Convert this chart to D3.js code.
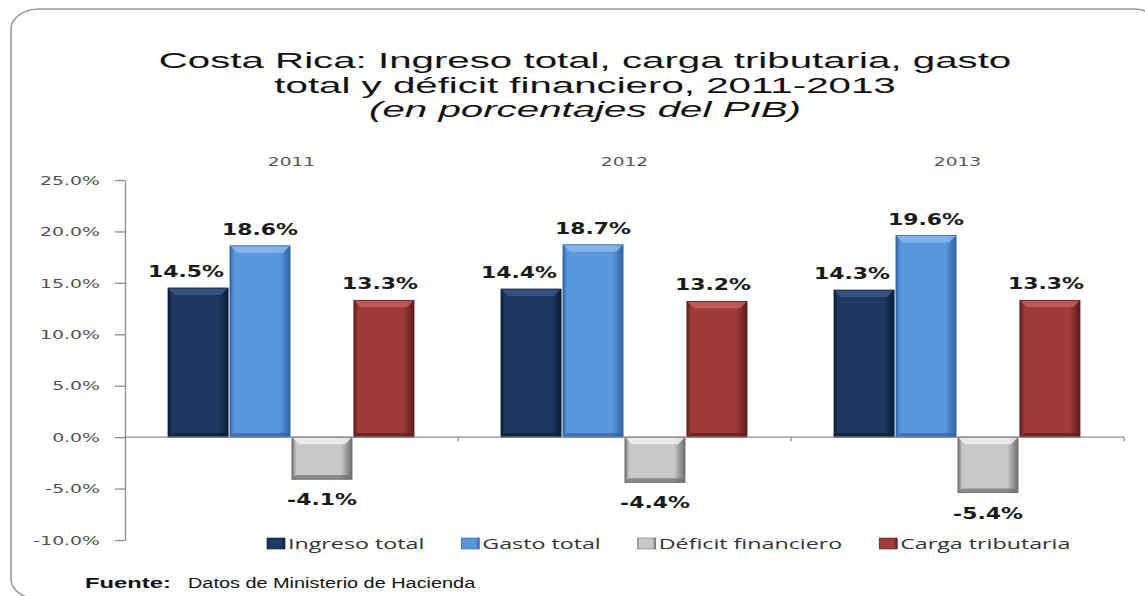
<!DOCTYPE html>
<html>
<head>
<meta charset="utf-8">
<script src="https://cdn.jsdelivr.net/npm/d3@7"></script>
<style>
  body { margin: 0; background: #fff; }
  svg { display: block; }
</style>
</head>
<body>
<div id="chart"></div>
<script>
// data
var years = ['2011', '2012', '2013'];
var seriesNames = ['Ingreso total', 'Gasto total', 'Déficit financiero', 'Carga tributaria'];
var ingresoTotal = [14.5, 14.4, 14.3];
var gastoTotal = [18.6, 18.7, 19.6];
var deficitFinanciero = [-4.1, -4.4, -5.4];
var cargaTributaria = [13.3, 13.2, 13.3];
var yTicks = [-10, -5, 0, 5, 10, 15, 20, 25];
var titleLines = ['Costa Rica: Ingreso total, carga tributaria, gasto',
                  'total y déficit financiero, 2011-2013',
                  '(en porcentajes del PIB)'];
var fuenteLabel = 'Fuente:';
var fuenteText = 'Datos de Ministerio de Hacienda';

var values = [ingresoTotal, gastoTotal, deficitFinanciero, cargaTributaria];
// base, edge dark, highlight
var colors = [
  ['#1f3a62', '#0c1d36', '#3a5a86'],
  ['#5b97dd', '#2f64a6', '#8dbbee'],
  ['#c8c8c8', '#6e6e6e', '#f4f4f4'],
  ['#9f3b39', '#5e1b1a', '#c4605d']
];

var width = 1145, height = 596;
var plotLeft = 125, plotRight = 1124, plotTop = 180, plotBottom = 540;

var svg = d3.select('#chart').append('svg')
    .attr('width', width)
    .attr('height', height);

// outer frame (runs off the right / bottom edge like the picture)
svg.append('rect')
    .attr('x', 11).attr('y', 9)
    .attr('width', 1150).attr('height', 590)
    .attr('rx', 28).attr('ry', 20)
    .attr('fill', '#fff')
    .attr('stroke', '#9a9a9a')
    .attr('stroke-width', 1.6);

// text helper: the picture is stretched sideways, so text gets scaled in x
function sText(parent, x, y, str, sx, anchor) {
  var g = parent.append('g').attr('transform', 'translate(' + x + ',' + y + ') scale(' + sx + ',1)');
  return g.append('text').attr('text-anchor', anchor || 'middle').text(str);
}

// title
var title = svg.append('g').attr('font-family', '"Liberation Sans", Arial, sans-serif')
    .attr('font-size', 22).attr('fill', '#111');
titleLines.forEach(function(t, i) {
  var tx = sText(title, 585, 68 + i * 24.5, t, 1.83);
  if (i === 2) tx.attr('font-style', 'italic');
});

var x0 = d3.scaleBand().domain(years).range([plotLeft, plotRight]);
var x1 = d3.scaleBand().domain(seriesNames).range([43, 289]).paddingInner(0.03);
var y = d3.scaleLinear().domain([-10, 25]).range([plotBottom, plotTop]);

// y axis
var yAxis = svg.append('g')
    .attr('transform', 'translate(' + plotLeft + ',0)')
    .call(d3.axisLeft(y).tickValues(yTicks).tickSize(10).tickSizeOuter(0)
      .tickFormat(function(d) { return d.toFixed(1) + '%'; }));
yAxis.select('.domain').attr('stroke', '#8c8c8c').attr('stroke-width', 1.3);
yAxis.selectAll('.tick line').attr('stroke', '#8c8c8c').attr('stroke-width', 1.3);
yAxis.selectAll('.tick text')
    .attr('font-family', '"DejaVu Sans", Verdana, sans-serif')
    .attr('font-size', 13)
    .attr('fill', '#505050')
    .attr('x', -25 / 1.45)
    .attr('transform', 'scale(1.45,1)');

// year labels on top
var yearG = svg.append('g').attr('font-family', '"DejaVu Sans", Verdana, sans-serif')
    .attr('font-size', 12).attr('fill', '#555');
years.forEach(function(yr) {
  sText(yearG, x0(yr) + x0.bandwidth() / 2, 166, yr, 1.55);
});

// defs for bar shading
var defs = svg.append('defs');
colors.forEach(function(c, i) {
  var gr = defs.append('linearGradient').attr('id', 'grad' + i)
      .attr('x1', 0).attr('x2', 1).attr('y1', 0).attr('y2', 0);
  gr.append('stop').attr('offset', 0).attr('stop-color', c[1]);
  gr.append('stop').attr('offset', 0.07).attr('stop-color', c[0]);
  gr.append('stop').attr('offset', 0.82).attr('stop-color', c[0]);
  gr.append('stop').attr('offset', 1).attr('stop-color', c[1]);
});

// bars
var bars = svg.append('g');
years.forEach(function(yr, yi) {
  seriesNames.forEach(function(s, si) {
    var v = values[si][yi];
    var bx = x0(yr) + x1(s);
    var bw = x1.bandwidth();
    var top = y(Math.max(0, v)), bot = y(Math.min(0, v));
    var bh = bot - top;
    var bev = Math.min(7, bh / 3);
    var g = bars.append('g');
    g.append('rect').attr('x', bx).attr('y', top).attr('width', bw).attr('height', bh)
        .attr('fill', 'url(#grad' + si + ')');
    // top bevel
    g.append('polygon')
        .attr('points', [[bx, top], [bx + bw, top], [bx + bw - bev, top + bev], [bx + bev, top + bev]].join(' '))
        .attr('fill', colors[si][2]).attr('opacity', 0.8);
    // bottom darker band
    g.append('polygon')
        .attr('points', [[bx, bot], [bx + bw, bot], [bx + bw - bev * 0.6, bot - bev * 0.6], [bx + bev * 0.6, bot - bev * 0.6]].join(' '))
        .attr('fill', colors[si][1]).attr('opacity', 0.7);
    g.append('rect').attr('x', bx).attr('y', top).attr('width', bw).attr('height', bh)
        .attr('fill', 'none').attr('stroke', colors[si][1]).attr('stroke-width', 0.8);
  });
});

// zero line + category ticks
svg.append('line')
    .attr('x1', plotLeft).attr('x2', plotRight)
    .attr('y1', y(0)).attr('y2', y(0))
    .attr('stroke', '#8c8c8c').attr('stroke-width', 1.3);
years.forEach(function(yr) {
  var bx = x0(yr) + x0.bandwidth();
  svg.append('line').attr('x1', bx).attr('x2', bx)
      .attr('y1', y(0)).attr('y2', y(0) + 4)
      .attr('stroke', '#8c8c8c').attr('stroke-width', 1.3);
});

// value labels
var labelG = svg.append('g').attr('font-family', '"DejaVu Sans", Verdana, sans-serif')
    .attr('font-size', 16).attr('font-weight', 'bold').attr('fill', '#1a1a1a');
var labelShift = [-12, 0, 0, -4];
years.forEach(function(yr, yi) {
  seriesNames.forEach(function(s, si) {
    var v = values[si][yi];
    var cx = x0(yr) + x1(s) + x1.bandwidth() / 2 + labelShift[si];
    var ly = v >= 0 ? y(v) - 11 : y(v) + 26;
    sText(labelG, cx, ly, v.toFixed(1) + '%', 1.37);
  });
});

// legend
var legend = svg.append('g').attr('font-family', '"Open Sans", sans-serif')
    .attr('font-size', 15).attr('fill', '#333');
var lx = 267, legendSx = 1.55;
seriesNames.forEach(function(s, si) {
  legend.append('rect').attr('x', lx).attr('y', 538).attr('width', 18).attr('height', 11)
      .attr('fill', 'url(#grad' + si + ')').attr('stroke', colors[si][1]).attr('stroke-width', 0.6);
  var t = sText(legend, lx + 21, 549, s, legendSx, 'start');
  lx += 21 + t.node().getComputedTextLength() * legendSx + 37;
});

// source line
var src = svg.append('g').attr('font-family', '"Liberation Sans", Arial, sans-serif')
    .attr('font-size', 14).attr('fill', '#111');
sText(src, 85, 588, fuenteLabel, 1.7, 'start').attr('font-weight', 'bold');
sText(src, 188, 588, fuenteText, 1.42, 'start');
</script>
</body>
</html>
